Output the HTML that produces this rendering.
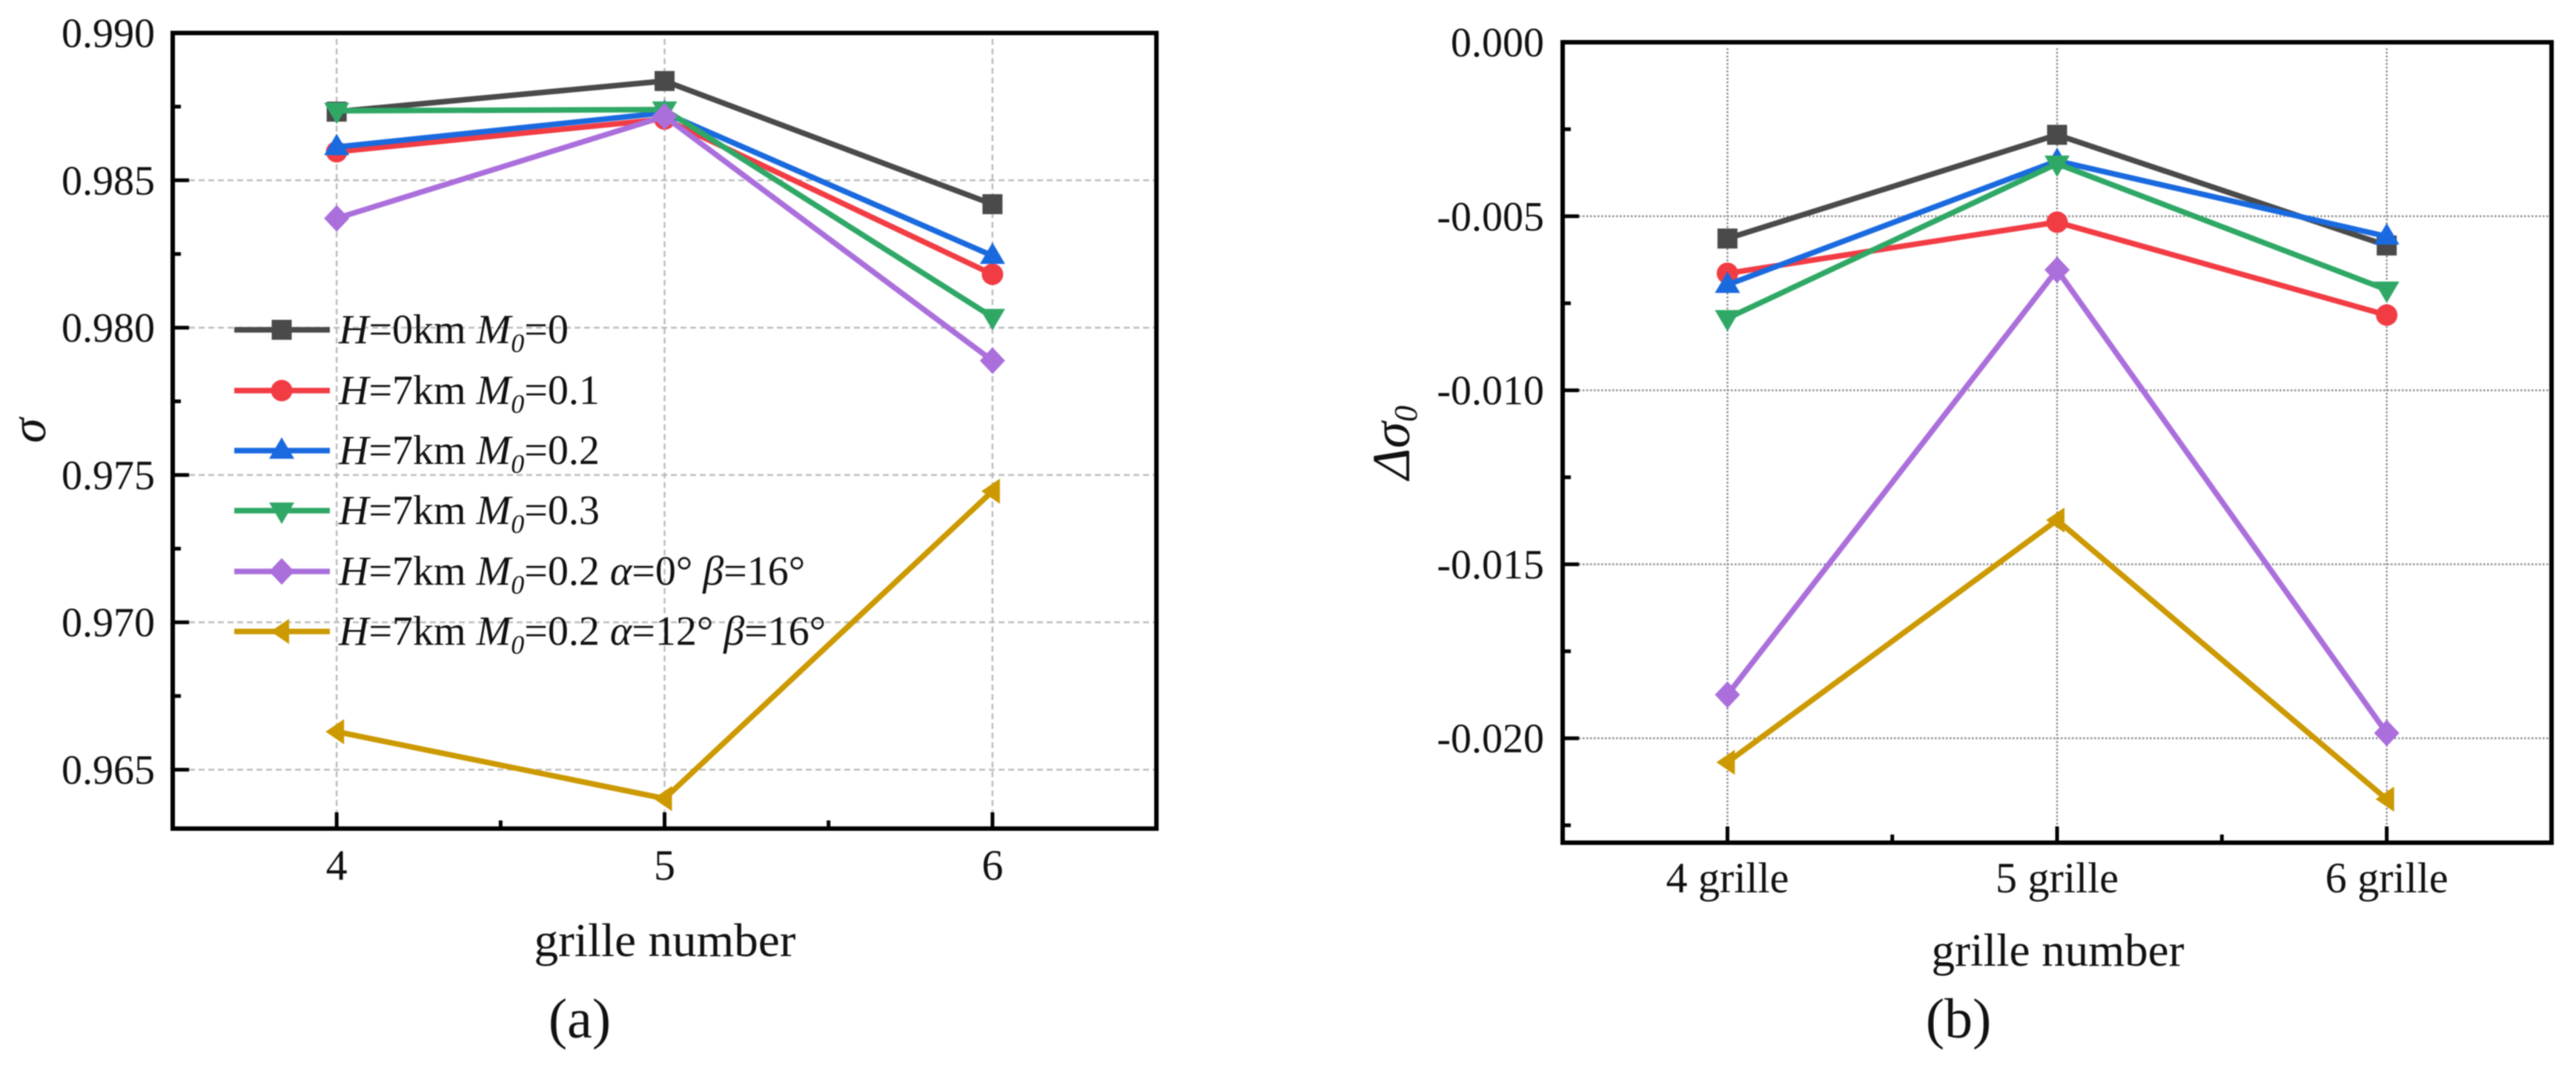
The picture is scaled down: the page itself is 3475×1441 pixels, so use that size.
<!DOCTYPE html>
<html lang="en">
<head>
<meta charset="utf-8">
<title>Grille number charts</title>
<style>
html,body{margin:0;padding:0;background:#fff;width:3475px;height:1441px;overflow:hidden}
svg{display:block;font-family:"Liberation Serif","DejaVu Serif",serif;fill:#111;filter:blur(0.7px)}
text{fill:#111}
.leg{font-size:56px}
.it{font-style:italic}
.sub{font-size:36px;font-style:italic}
</style>
</head>
<body>
<svg id="fig" xmlns="http://www.w3.org/2000/svg" width="3475" height="1441" viewBox="0 0 3475 1441">
  <rect x="0" y="0" width="3475" height="1441" fill="#fff"/>
  <g id="panelA"></g>
  <g id="panelB"></g>

  <text class="it" font-size="68" text-anchor="middle" transform="translate(61 581) rotate(-90)">σ</text>
  <text font-size="64" text-anchor="middle" x="897" y="1290" textLength="353" lengthAdjust="spacingAndGlyphs">grille number</text>
  <text font-size="76" text-anchor="middle" x="782" y="1400">(a)</text>

  <text class="it" font-size="72" transform="translate(1901 647) rotate(-90)">Δσ<tspan font-size="44" dy="10">0</tspan></text>
  <text font-size="62" text-anchor="middle" x="2776" y="1303" textLength="341" lengthAdjust="spacingAndGlyphs">grille number</text>
  <text font-size="76" text-anchor="middle" x="2642" y="1400">(b)</text>

  <g id="legend">
    <text class="leg" x="457" y="463"><tspan class="it">H</tspan>=0km <tspan class="it">M</tspan><tspan class="sub" dy="12">0</tspan><tspan dy="-12">=0</tspan></text>
    <text class="leg" x="457" y="545"><tspan class="it">H</tspan>=7km <tspan class="it">M</tspan><tspan class="sub" dy="12">0</tspan><tspan dy="-12">=0.1</tspan></text>
    <text class="leg" x="457" y="626"><tspan class="it">H</tspan>=7km <tspan class="it">M</tspan><tspan class="sub" dy="12">0</tspan><tspan dy="-12">=0.2</tspan></text>
    <text class="leg" x="457" y="707"><tspan class="it">H</tspan>=7km <tspan class="it">M</tspan><tspan class="sub" dy="12">0</tspan><tspan dy="-12">=0.3</tspan></text>
    <text class="leg" x="457" y="789"><tspan class="it">H</tspan>=7km <tspan class="it">M</tspan><tspan class="sub" dy="12">0</tspan><tspan dy="-12">=0.2 </tspan><tspan class="it">α</tspan>=0° <tspan class="it">β</tspan>=16°</text>
    <text class="leg" x="457" y="870"><tspan class="it">H</tspan>=7km <tspan class="it">M</tspan><tspan class="sub" dy="12">0</tspan><tspan dy="-12">=0.2 </tspan><tspan class="it">α</tspan>=12° <tspan class="it">β</tspan>=16°</text>
  </g>
</svg>
<script>
// ---------- data: panel (a) ----------
const categoriesA = [4, 5, 6];
const categoryLabelsA = ['4', '5', '6'];
const yTicksA = [0.990, 0.985, 0.980, 0.975, 0.970, 0.965];
const yTickLabelsA = ['0.990', '0.985', '0.980', '0.975', '0.970', '0.965'];
const yMinorTicksA = [0.9875, 0.9825, 0.9775, 0.9725, 0.9675];
const seriesA_h0m0 = [0.98733, 0.98837, 0.98419];
const seriesA_h7m01 = [0.98597, 0.98708, 0.98181];
const seriesA_h7m02 = [0.98613, 0.98729, 0.98244];
const seriesA_h7m03 = [0.98736, 0.98740, 0.98036];
const seriesA_h7m02a0 = [0.98371, 0.98717, 0.97888];
const seriesA_h7m02a12 = [0.96629, 0.96402, 0.97445];

// ---------- data: panel (b) ----------
const categoriesB = [4, 5, 6];
const categoryLabelsB = ['4 grille', '5 grille', '6 grille'];
const yTicksB = [0.000, -0.005, -0.010, -0.015, -0.020];
const yTickLabelsB = ['0.000', '-0.005', '-0.010', '-0.015', '-0.020'];
const yMinorTicksB = [-0.0025, -0.0075, -0.0125, -0.0175, -0.0225];
const seriesB_h0m0 = [-0.00564, -0.00266, -0.00584];
const seriesB_h7m01 = [-0.00664, -0.00517, -0.00784];
const seriesB_h7m02 = [-0.00697, -0.00341, -0.00558];
const seriesB_h7m03 = [-0.00793, -0.00349, -0.00711];
const seriesB_h7m02a0 = [-0.01875, -0.00654, -0.01985];
const seriesB_h7m02a12 = [-0.02069, -0.01373, -0.02175];

// ---------- series identity ----------
const seriesNames = ['h0-m0', 'h7-m01', 'h7-m02', 'h7-m03', 'h7-m02-a0-b16', 'h7-m02-a12-b16'];
const seriesColors = ['#4a4a4a', '#f23c44', '#1a6adf', '#2fa866', '#ab6fdc', '#cc9900'];
const seriesShapes = ['square', 'circle', 'up', 'down', 'diamond', 'left'];
const valuesA = [seriesA_h0m0, seriesA_h7m01, seriesA_h7m02, seriesA_h7m03, seriesA_h7m02a0, seriesA_h7m02a12];
const valuesB = [seriesB_h0m0, seriesB_h7m01, seriesB_h7m02, seriesB_h7m03, seriesB_h7m02a0, seriesB_h7m02a12];

const NS = 'http://www.w3.org/2000/svg';
function mk(parent, tag, attrs) {
  const el = document.createElementNS(NS, tag);
  for (const k in attrs) el.setAttribute(k, attrs[k]);
  parent.appendChild(el);
  return el;
}
function scale(d0, d1, r0, r1) {
  return v => r0 + (v - d0) / (d1 - d0) * (r1 - r0);
}
function drawMarker(parent, shape, cx, cy, color, name) {
  let el;
  if (shape === 'square') {
    el = mk(parent, 'rect', {x: cx - 13.5, y: cy - 13.5, width: 27, height: 27, fill: color});
  } else if (shape === 'circle') {
    el = mk(parent, 'circle', {cx: cx, cy: cy, r: 14.5, fill: color});
  } else {
    let pts;
    if (shape === 'up') pts = [[0, -18], [17, 11], [-17, 11]];
    if (shape === 'down') pts = [[0, 18], [17, -11], [-17, -11]];
    if (shape === 'diamond') pts = [[0, -18], [17, 0], [0, 18], [-17, 0]];
    if (shape === 'left') pts = [[-15, 0], [10, -17], [10, 17]];
    el = mk(parent, 'polygon', {points: pts.map(p => (cx + p[0]) + ',' + (cy + p[1])).join(' '), fill: color});
  }
  
  
}

function drawPanel(cfg) {
  const g = cfg.root;
  const x = scale(cfg.xDomain[0], cfg.xDomain[1], cfg.box.left, cfg.box.right);
  const y = scale(cfg.yDomain[0], cfg.yDomain[1], cfg.box.bottom, cfg.box.top);
  const b = cfg.box;

  // grid
  cfg.yTicks.forEach(t => {
    if (t === cfg.yDomain[1]) return;
    const l = mk(g, 'line', {x1: b.left + 22, x2: b.right, y1: y(t), y2: y(t), stroke: cfg.gridColor, 'stroke-width': cfg.gridWidth, 'stroke-dasharray': cfg.gridDash});
    
    
  });
  cfg.categories.forEach(c => {
    const l = mk(g, 'line', {x1: x(c), x2: x(c), y1: b.top + 8, y2: b.bottom - 22, stroke: cfg.gridColor, 'stroke-width': cfg.gridWidth, 'stroke-dasharray': cfg.gridDash});
    
    
  });

  // ticks
  cfg.yTicks.forEach((t, i) => {
    const tk = mk(g, 'line', {x1: b.left, x2: b.left + 22, y1: y(t), y2: y(t), stroke: '#000', 'stroke-width': 5});
    
    
    const lb = mk(g, 'text', {x: b.left - cfg.yLabelGap, y: y(t) + 19, 'text-anchor': 'end', 'font-size': 56});
    lb.textContent = cfg.yLabels[i];
    
    
  });
  cfg.yMinor.forEach(t => {
    const tk = mk(g, 'line', {x1: b.left, x2: b.left + 11, y1: y(t), y2: y(t), stroke: '#000', 'stroke-width': 5});
    
    
  });
  cfg.categories.forEach((c, i) => {
    const tk = mk(g, 'line', {x1: x(c), x2: x(c), y1: b.bottom, y2: b.bottom - 22, stroke: '#000', 'stroke-width': 5});
    
    
    const lb = mk(g, 'text', {x: x(c), y: cfg.xLabelY, 'text-anchor': 'middle', 'font-size': cfg.xLabelSize});
    lb.textContent = cfg.xLabels[i];
    
    
    if (i < cfg.categories.length - 1) {
      const xm = (x(c) + x(cfg.categories[i + 1])) / 2;
      const mt = mk(g, 'line', {x1: xm, x2: xm, y1: b.bottom, y2: b.bottom - 11, stroke: '#000', 'stroke-width': 5});
      
      
    }
  });

  // frame
  const fr = mk(g, 'rect', {x: b.left, y: b.top, width: b.right - b.left, height: b.bottom - b.top, fill: 'none', stroke: '#000', 'stroke-width': 6});
  
  

  // series
  cfg.values.forEach((vals, s) => {
    const sg = mk(g, 'g', {});
    
    
    const pl = mk(sg, 'polyline', {
      points: vals.map((v, i) => x(cfg.categories[i]) + ',' + y(v)).join(' '),
      fill: 'none', stroke: seriesColors[s], 'stroke-width': 7.5, 'stroke-linejoin': 'miter'
    });
    
    
    vals.forEach((v, i) => {
      drawMarker(sg, seriesShapes[s], x(cfg.categories[i]), y(v), seriesColors[s], 'point-' + seriesNames[s]);
    });
  });
}

drawPanel({
  root: document.getElementById('panelA'),
  box: {left: 233, right: 1560, top: 44.5, bottom: 1118},
  xDomain: [3.5, 6.5], yDomain: [0.963, 0.990],
  categories: categoriesA, xLabels: categoryLabelsA,
  yTicks: yTicksA, yLabels: yTickLabelsA, yMinor: yMinorTicksA,
  values: valuesA,
  gridColor: '#bdbdbd', gridWidth: 2.5, gridDash: '8 5',
  yLabelGap: 24, xLabelY: 1187, xLabelSize: 58
});
drawPanel({
  root: document.getElementById('panelB'),
  box: {left: 2108, right: 3442, top: 57, bottom: 1137},
  xDomain: [3.5, 6.5], yDomain: [-0.023, 0.000],
  categories: categoriesB, xLabels: categoryLabelsB,
  yTicks: yTicksB, yLabels: yTickLabelsB, yMinor: yMinorTicksB,
  values: valuesB,
  gridColor: '#8c8c8c', gridWidth: 2.5, gridDash: '2.5 2.5',
  yLabelGap: 25, xLabelY: 1204, xLabelSize: 58
});

// legend keys
const legendRoot = document.getElementById('legend');
const legendRows = [445, 527, 608, 689, 771, 852];
seriesNames.forEach((n, i) => {
  const l = mk(legendRoot, 'line', {x1: 316, x2: 445, y1: legendRows[i], y2: legendRows[i], stroke: seriesColors[i], 'stroke-width': 7.5});
  
  
  drawMarker(legendRoot, seriesShapes[i], 380, legendRows[i], seriesColors[i], 'legend-marker-' + n);
});
</script>
</body>
</html>
